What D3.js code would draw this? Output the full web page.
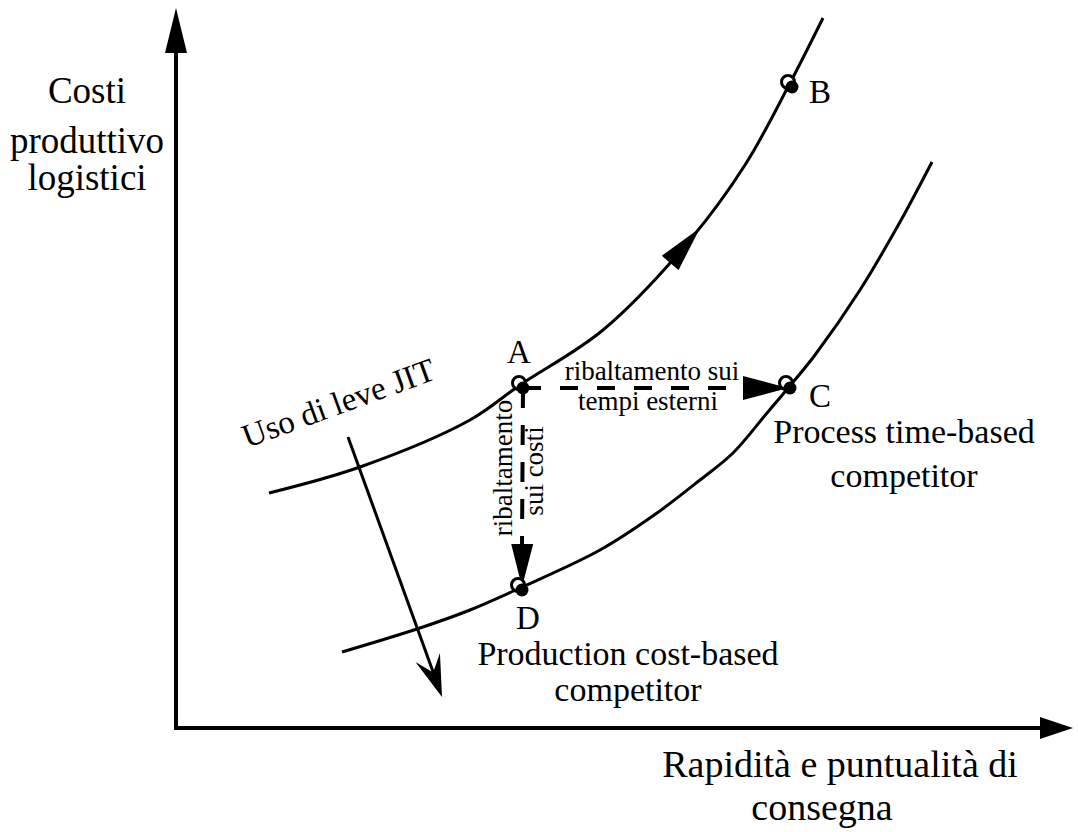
<!DOCTYPE html>
<html>
<head>
<meta charset="utf-8">
<script src="https://cdn.jsdelivr.net/npm/d3@7"></script>
<style>
  body { margin: 0; background: #fff; }
  svg text { font-family: "Liberation Serif", "Times New Roman", serif; fill: #000; }
</style>
</head>
<body>
<svg width="1078" height="832"></svg>
<script>
// conceptual chart: units are arbitrary, origin at the axes corner
const xDomain = [0, 900];
const yDomain = [0, 720];

// iso-curves (x, y pairs)
const upperCurve = [[93, 235], [184, 261], [294, 308], [344, 343], [427, 398], [514, 488], [569, 563], [613, 643], [647, 710]];
const lowerCurve = [[166, 76], [244, 100], [294, 118], [344, 140], [424, 178], [481, 215], [524, 248], [557, 275], [591, 315], [613, 341], [639, 373], [684, 438], [724, 506], [756, 566]];

// named positions
const pointNames = ["A", "B", "C", "D"];
const pointX = [347, 616, 614, 346];
const pointY = [340, 641, 340, 138];

// JIT lever arrow (start, end)
const jitArrow = [[172, 291], [266, 31]];
// where the direction arrow sits on the upper curve (x of its tip)
const upperArrowTipX = 524;

const yTitle = ["Costi", "produttivo", "logistici"];
const xTitle = ["Rapidità e puntualità di", "consegna"];

const svg = d3.select("svg");
const x = d3.scaleLinear().domain(xDomain).range([176, 1076]);
const y = d3.scaleLinear().domain(yDomain).range([728, 8]);

const g = svg.append("g");

function arrowHead(tip, from, len, halfW, notch) {
  const dx = tip[0] - from[0], dy = tip[1] - from[1];
  const d = Math.hypot(dx, dy);
  const ux = dx / d, uy = dy / d;
  const bx = tip[0] - ux * len, by = tip[1] - uy * len;
  const nx = -uy, ny = ux;
  const pts = [tip, [bx + nx * halfW, by + ny * halfW], [tip[0] - ux * (len - notch), tip[1] - uy * (len - notch)], [bx - nx * halfW, by - ny * halfW]];
  g.append("path")
    .attr("d", "M" + pts.map(p => p.join(",")).join("L") + "Z")
    .attr("fill", "#000");
  return [bx, by];
}

// axes
g.append("line")
  .attr("x1", x(0)).attr("y1", y(0))
  .attr("x2", x(0)).attr("y2", y(yDomain[1]) + 40)
  .attr("stroke", "#000").attr("stroke-width", 4);
arrowHead([x(0), y(yDomain[1])], [x(0), y(0)], 45, 11, 0);

g.append("line")
  .attr("x1", x(0) - 2).attr("y1", y(0))
  .attr("x2", x(xDomain[1]) - 30).attr("y2", y(0))
  .attr("stroke", "#000").attr("stroke-width", 4);
arrowHead([x(xDomain[1]) - 3, y(0)], [x(0), y(0)], 33, 11, 0);

// curves
const line = d3.line().x(d => x(d[0])).y(d => y(d[1])).curve(d3.curveCatmullRom);
const upperPath = g.append("path").datum(upperCurve)
  .attr("d", line).attr("fill", "none").attr("stroke", "#000").attr("stroke-width", 3);
g.append("path").datum(lowerCurve)
  .attr("d", line).attr("fill", "none").attr("stroke", "#000").attr("stroke-width", 3);

// direction arrow on the upper curve
(function () {
  const node = upperPath.node();
  const total = node.getTotalLength();
  let lo = 0, hi = total;
  for (let i = 0; i < 40; i++) {
    const mid = (lo + hi) / 2;
    if (node.getPointAtLength(mid).x < x(upperArrowTipX)) lo = mid; else hi = mid;
  }
  const tp = node.getPointAtLength(lo);
  const bp = node.getPointAtLength(lo - 46);
  arrowHead([tp.x, tp.y], [bp.x, bp.y], 46, 11, 0);
})();

const P = i => [x(pointX[i]), y(pointY[i])];

// dashed A -> C
const A = P(0), B = P(1), C = P(2), D = P(3);
const hBase = [C[0] - 46, C[1]];
g.append("line")
  .attr("x1", A[0]).attr("y1", A[1]).attr("x2", hBase[0]).attr("y2", hBase[1])
  .attr("stroke", "#000").attr("stroke-width", 4).attr("stroke-dasharray", "18,19");
arrowHead([C[0] - 2, C[1]], A, 45, 12, 0);

// dashed A -> D
g.append("line")
  .attr("x1", A[0]).attr("y1", A[1]).attr("x2", D[0]).attr("y2", D[1] - 44)
  .attr("stroke", "#000").attr("stroke-width", 4).attr("stroke-dasharray", "20,17");
arrowHead([D[0], D[1] - 3], A, 43, 11, 0);

// JIT arrow
const j0 = [x(jitArrow[0][0]), y(jitArrow[0][1])];
const j1 = [x(jitArrow[1][0]), y(jitArrow[1][1])];
g.append("line")
  .attr("x1", j0[0]).attr("y1", j0[1]).attr("x2", j1[0] - 2).attr("y2", j1[1] - 6)
  .attr("stroke", "#000").attr("stroke-width", 3);
arrowHead(j1, j0, 42, 13, 16);

// points: small ring plus filled dot
pointNames.forEach((name, i) => {
  const p = P(i);
  g.append("circle").attr("cx", p[0] - 4).attr("cy", p[1] - 5).attr("r", 6.5)
    .attr("fill", "#fff").attr("stroke", "#000").attr("stroke-width", 3);
  g.append("circle").attr("cx", p[0]).attr("cy", p[1]).attr("r", 6.5).attr("fill", "#000");
});

// point labels
const labelOffsets = { A: [-4, -25, "middle"], B: [17, 16, "start"], C: [19, 19, "start"], D: [6, 39, "middle"] };
pointNames.forEach((name, i) => {
  const p = P(i), o = labelOffsets[name];
  g.append("text").attr("x", p[0] + o[0]).attr("y", p[1] + o[1])
    .attr("text-anchor", o[2]).style("font-size", "33px").text(name);
});

function textLines(lines, cx, ys, size) {
  lines.forEach((t, i) => {
    g.append("text").attr("x", cx).attr("y", ys[i])
      .attr("text-anchor", "middle").style("font-size", size + "px").text(t);
  });
}

// axis titles
textLines(yTitle, 87, [103, 153, 190], 37);
g.append("text").attr("x", 840).attr("y", 777).attr("text-anchor", "middle")
  .style("font-size", "38px").text(xTitle[0]);
g.append("text").attr("x", 822).attr("y", 820).attr("text-anchor", "middle")
  .style("font-size", "38px").text(xTitle[1]);

// competitor labels
textLines(["Process time-based", "competitor"], 904, [443, 487], 34);
textLines(["Production cost-based", "competitor"], 628, [665, 701], 34);

// dashed arrow captions
g.append("text").attr("x", 652).attr("y", 380).attr("text-anchor", "middle").style("font-size", "27px").text("ribaltamento sui");
g.append("text").attr("x", 648).attr("y", 410).attr("text-anchor", "middle").style("font-size", "27px").text("tempi esterni");
g.append("text").attr("transform", "translate(512,468) rotate(-90)").attr("text-anchor", "middle").style("font-size", "27px").text("ribaltamento");
g.append("text").attr("transform", "translate(543,471) rotate(-90)").attr("text-anchor", "middle").style("font-size", "27px").text("sui costi");

// JIT caption
g.append("text").attr("transform", "translate(247,448) rotate(-20)").style("font-size", "33px").text("Uso di leve JIT");
</script>
</body>
</html>
